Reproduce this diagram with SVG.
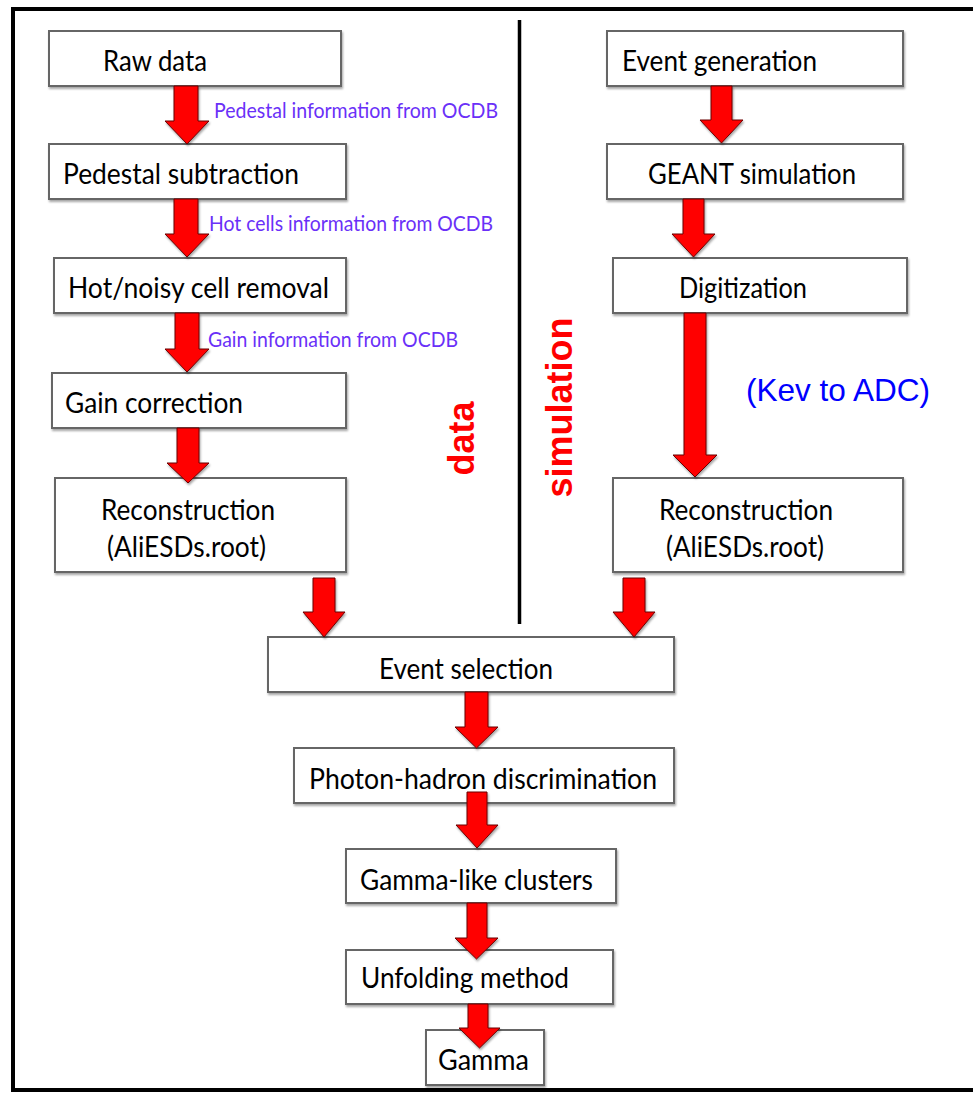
<svg xmlns="http://www.w3.org/2000/svg" width="973" height="1094" viewBox="0 0 973 1094">
<defs>
<filter id="sh" x="-10%" y="-10%" width="130%" height="140%">
<feDropShadow dx="1" dy="2" stdDeviation="1.2" flood-color="#000" flood-opacity="0.35"/>
</filter>
</defs>
<style>
.box{fill:#fff;stroke:#666;stroke-width:2;filter:url(#sh)}
.t{font-family:Lato,"Liberation Sans",sans-serif;font-size:28px;fill:#000}
.info{font-family:Lato,"Liberation Sans",sans-serif;font-size:21px;fill:#6a30f8}
.side{font-family:"Liberation Sans",Arial,sans-serif;font-size:36px;font-weight:bold;fill:#ff0000}
.arr{fill:#ff0000;stroke:#6a0000;stroke-width:1;stroke-linejoin:miter;filter:url(#sh)}
</style>
<rect width="973" height="1094" fill="#fff"/>
<g id="frame">
<rect x="13" y="9" width="985" height="1081" fill="none" stroke="#000" stroke-width="4"/>
<line x1="519.5" y1="20" x2="519.5" y2="624" stroke="#000" stroke-width="3.5"/>
</g>
<g id="raw-data"><rect class="box" x="49" y="31" width="292" height="55"/><text class="t" x="103" y="71" textLength="104" lengthAdjust="spacingAndGlyphs">Raw data</text></g>
<g id="pedestal-subtraction"><rect class="box" x="49" y="144" width="297" height="55"/><text class="t" x="63" y="184" textLength="236" lengthAdjust="spacingAndGlyphs">Pedestal subtraction</text></g>
<g id="hot-noisy"><rect class="box" x="54" y="258" width="292" height="55"/><text class="t" x="68" y="298" textLength="261" lengthAdjust="spacingAndGlyphs">Hot/noisy cell removal</text></g>
<g id="gain-correction"><rect class="box" x="52" y="373" width="294" height="55"/><text class="t" x="65" y="413" textLength="178" lengthAdjust="spacingAndGlyphs">Gain correction</text></g>
<g id="reco-data"><rect class="box" x="55" y="478" width="291" height="94"/><text class="t" x="101" y="520" textLength="174" lengthAdjust="spacingAndGlyphs">Reconstruction</text><text class="t" x="107" y="557" textLength="159" lengthAdjust="spacingAndGlyphs">(AliESDs.root)</text></g>
<g id="event-generation"><rect class="box" x="607" y="31" width="296" height="55"/><text class="t" x="622" y="71" textLength="195" lengthAdjust="spacingAndGlyphs">Event generation</text></g>
<g id="geant"><rect class="box" x="607" y="144" width="296" height="55"/><text class="t" x="648" y="184" textLength="208" lengthAdjust="spacingAndGlyphs">GEANT simulation</text></g>
<g id="digitization"><rect class="box" x="613" y="258" width="294" height="55"/><text class="t" x="679" y="298" textLength="128" lengthAdjust="spacingAndGlyphs">Digitization</text></g>
<g id="reco-sim"><rect class="box" x="613" y="478" width="290" height="94"/><text class="t" x="659" y="520" textLength="174" lengthAdjust="spacingAndGlyphs">Reconstruction</text><text class="t" x="666" y="557" textLength="158" lengthAdjust="spacingAndGlyphs">(AliESDs.root)</text></g>
<g id="event-selection"><rect class="box" x="268" y="637" width="406" height="55"/><text class="t" x="379" y="679" textLength="174" lengthAdjust="spacingAndGlyphs">Event selection</text></g>
<g id="photon-hadron"><rect class="box" x="294" y="748" width="380" height="55"/><text class="t" x="309" y="789" textLength="348" lengthAdjust="spacingAndGlyphs">Photon-hadron discrimination</text></g>
<g id="gamma-like"><rect class="box" x="346" y="849" width="270" height="54"/><text class="t" x="360" y="890" textLength="233" lengthAdjust="spacingAndGlyphs">Gamma-like clusters</text></g>
<g id="unfolding"><rect class="box" x="346" y="950" width="267" height="54"/><text class="t" x="361" y="988" textLength="208" lengthAdjust="spacingAndGlyphs">Unfolding method</text></g>
<g id="gamma"><rect class="box" x="426" y="1030" width="118" height="55"/><text class="t" x="438" y="1070" textLength="91" lengthAdjust="spacingAndGlyphs">Gamma</text></g>
<g id="labels">
<text class="info" x="214" y="118" textLength="284" lengthAdjust="spacingAndGlyphs">Pedestal information from OCDB</text>
<text class="info" x="209" y="231" textLength="284" lengthAdjust="spacingAndGlyphs">Hot cells information from OCDB</text>
<text class="info" x="208" y="347" textLength="250" lengthAdjust="spacingAndGlyphs">Gain information from OCDB</text>
<text x="746" y="401" font-family="'Liberation Sans',Arial,sans-serif" font-size="30.5" fill="#0000ff" textLength="184" lengthAdjust="spacingAndGlyphs">(Kev to ADC)</text>
</g>
<g id="side-labels">
<text class="side" x="0" y="0" text-anchor="middle" transform="translate(474 438.5) rotate(-90)">data</text>
<text class="side" x="0" y="0" text-anchor="middle" transform="translate(572 407.5) rotate(-90)">simulation</text>
</g>
<g id="connectors">
<path class="arr" d="M174 86H198V121H209L187 144L165 121H174Z"/>
<path class="arr" d="M174 199H198V234H209L187 257L165 234H174Z"/>
<path class="arr" d="M175 313H199V349H209L187 372L165 349H175Z"/>
<path class="arr" d="M177 428H199V463H209L188 483L167 463H177Z"/>
<path class="arr" d="M313 578H335V612H345L324 637L303 612H313Z"/>
<path class="arr" d="M623 578H645V612H655L634 637L613 612H623Z"/>
<path class="arr" d="M711 86H732V120H743L721.5 143L700 120H711Z"/>
<path class="arr" d="M683 199H704V234H715L693.5 257L672 234H683Z"/>
<path class="arr" d="M684 313H706V455H717L695 477L673 455H684Z"/>
<path class="arr" d="M465 692H488V727H498L476.5 748L455 727H465Z"/>
<path class="arr" d="M467 792H487V825H498L477 848L456 825H467Z"/>
<path class="arr" d="M467 903H487V938H498L476.5 959L455 938H467Z"/>
<path class="arr" d="M468 1004H488V1028H500L479.5 1048L459 1028H468Z"/>
</g>
</svg>
